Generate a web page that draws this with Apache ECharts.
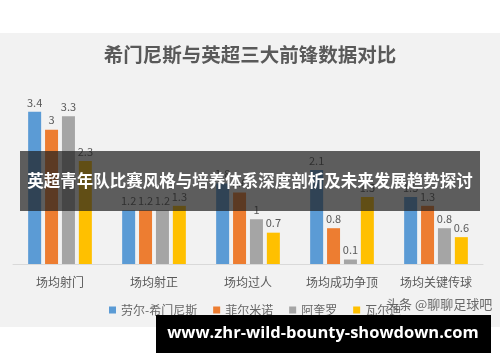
<!DOCTYPE html>
<html>
<head>
<meta charset="utf-8">
<script src="https://cdn.jsdelivr.net/npm/echarts@6/dist/echarts.min.js"></script>
<style>html,body{margin:0;padding:0;background:#fff;}#c{width:500px;height:362px;}</style>
</head>
<body>
<div id="c"></div>
<script>
const categories = ['场均射门', '场均射正', '场均过人', '场均成功争顶', '场均关键传球'];
const seriesNames = ['劳尔-希门尼斯', '菲尔米诺', '阿奎罗', '瓦尔迪'];
const jimenez = [3.4, 1.2, 1.8, 2.1, 1.5];
const firmino = [3, 1.2, 1.6, 0.8, 1.3];
const aguero = [3.3, 1.2, 1, 0.1, 0.8];
const vardy = [2.3, 1.3, 0.7, 1.5, 0.6];
const colors = ['#5b9bd5', '#ed7d31', '#a5a5a5', '#ffc000'];
const titleText = '希门尼斯与英超三大前锋数据对比';
const bannerText = '英超青年队比赛风格与培养体系深度剖析及未来发展趋势探讨';
const urlText = 'www.zhr-wild-bounty-showdown.com';
const watermark = '头条 @聊聊足球吧';

const font = '"Noto Sans CJK SC", "Microsoft YaHei", sans-serif';
const data = [jimenez, firmino, aguero, vardy];
const chart = echarts.init(document.getElementById('c'));
chart.setOption({
  animation: false,
  textStyle: { fontFamily: font },
  color: colors,
  title: {
    text: titleText, left: 'center', top: 40,
    textStyle: { fontSize: 19.5, fontWeight: 'bold', color: '#595959', fontFamily: font }
  },
  legend: {
    data: seriesNames, left: 104, top: 299, icon: 'rect', itemWidth: 7, itemHeight: 7, itemGap: 16,
    textStyle: { fontSize: 12, color: '#666', fontFamily: font }
  },
  grid: { left: 13, right: 17, top: 85, bottom: 98 },
  xAxis: {
    type: 'category', data: categories,
    axisLine: { lineStyle: { color: '#d9d9d9' } },
    axisTick: { show: false },
    axisLabel: { fontSize: 12, color: '#595959', margin: 12, fontFamily: font }
  },
  yAxis: { type: 'value', min: 0, max: 4, show: false, splitLine: { show: false } },
  series: seriesNames.map((n, i) => ({
    name: n, type: 'bar', data: data[i], barWidth: 13, barGap: '30%',
    label: { show: true, position: 'top', fontSize: 11, color: '#595959', distance: 4 }
  })),
  graphic: [
    { type: 'rect', z: -10, silent: true, shape: { x: 0, y: 33, width: 500, height: 294 }, style: { fill: '#f2f2f2' } },
    { type: 'text', z: 50, left: 386, top: 298, style: { text: watermark, fontSize: 13, fill: 'rgba(80,80,80,0.85)', fontFamily: font } },
    { type: 'rect', z: 100, shape: { x: 20, y: 151, width: 460, height: 60 }, style: { fill: 'rgba(30,30,30,0.7)' } },
    { type: 'text', z: 101, x: 250, y: 181, style: { text: bannerText, fontSize: 16.5, fontWeight: 'bold', fill: '#fff', align: 'center', verticalAlign: 'middle', fontFamily: font } },
    { type: 'rect', z: 100, shape: { x: 156, y: 315, width: 335, height: 38 }, style: { fill: '#000' } },
    { type: 'text', z: 101, x: 323, y: 333, style: { text: urlText, fontSize: 16.5, fontWeight: 'bold', fill: '#fff', align: 'center', verticalAlign: 'middle', fontFamily: '"Open Sans", "DejaVu Sans", sans-serif' } }
  ]
});
</script>
</body>
</html>
